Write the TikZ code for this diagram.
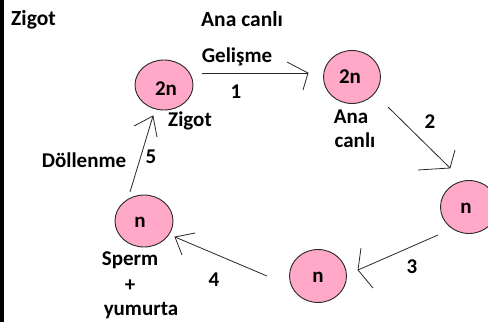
\documentclass[tikz,border=0pt]{standalone}
\usepackage{fontspec}
\setmainfont{Carlito}
\usetikzlibrary{shapes.geometric}
\definecolor{cellpink}{RGB}{255,168,200}
\definecolor{inkline}{RGB}{40,40,40}
\tikzset{
  cell/.style={ellipse, draw=inkline, line width=0.9pt, fill=cellpink, inner sep=0pt,
    minimum width=57pt, minimum height=52pt},
  lbl/.style={anchor=base, inner sep=0pt, font=\fontsize{21}{25}\selectfont\bfseries},
  stroke/.style={draw=inkline, line width=0.8pt}
}
\begin{document}
\begin{tikzpicture}[x=1pt,y=-1pt]
\useasboundingbox (0,0) rectangle (488,322);
\fill[black] (0,0) rectangle (4,322);
% cells
\node[cell, minimum width=58pt, minimum height=50pt] (zig) at (164,85) {};
\node[cell, minimum height=53pt] (ana) at (352,77) {};
\node[cell, minimum height=53pt] (nr) at (469,207) {};
\node[cell, minimum height=53pt] (nb) at (318,276) {};
\node[cell, minimum width=58pt] (nl) at (144,221) {};
% cell texts
\node[lbl] (zigt) at (166,95) {2n};
\node[lbl] (anat) at (350,83) {2n};
\node[lbl] (nrt) at (466,213) {n};
\node[lbl] (nbt) at (318,282) {n};
\node[lbl] (nlt) at (140,227) {n};
% labels
\node[lbl, anchor=base west, font=\fontsize{21.5}{25}\selectfont\bfseries] (tz) at (11,25) {Zigot};
\node[lbl, anchor=base west, font=\fontsize{21.5}{25}\selectfont\bfseries] (ta) at (201,26) {Ana canlı};
\node[lbl] (gel) at (237,62) {Gelişme};
\node[lbl] (one) at (236,98) {1};
\node[lbl] (zl) at (190,126) {Zigot};
\node[lbl] (al1) at (351,123) {Ana};
\node[lbl] (al2) at (355,147) {canlı};
\node[lbl] (two) at (430,128) {2};
\node[lbl] (three) at (412,273) {3};
\node[lbl] (four) at (214,286) {4};
\node[lbl] (dol) at (84,167) {Döllenme};
\node[lbl] (five) at (151,163) {5};
\node[lbl] (sp) at (130,265) {Sperm};
\node[lbl] (plus) at (130,291) {+};
\node[lbl] (yum) at (141,315) {yumurta};
% arrow 1
\coordinate (a1s) at (202,73); \coordinate (a1t) at (308,73);
\coordinate (a1h) at (287,62); \coordinate (a1k) at (303,90);
\draw[stroke] (a1s) -- (a1t);
\draw[stroke] (a1h) -- (a1t) -- (a1k);
% arrow 2
\coordinate (a2s) at (388,107); \coordinate (a2t) at (450,168);
\coordinate (a2h) at (418,170); \coordinate (a2k) at (455,150);
\draw[stroke] (a2s) -- (a2t);
\draw[stroke] (a2h) -- (a2t) -- (a2k);
% arrow 3
\coordinate (a3s) at (438,235); \coordinate (a3t) at (358,270);
\coordinate (a3h) at (361,248); \coordinate (a3k) at (373,288);
\draw[stroke] (a3s) -- (a3t);
\draw[stroke] (a3h) -- (a3t) -- (a3k);
% arrow 4
\coordinate (a4s) at (267,276); \coordinate (a4t) at (175,237);
\coordinate (a4h) at (195,233); \coordinate (a4k) at (182,255);
\draw[stroke] (a4s) -- (a4t);
\draw[stroke] (a4h) -- (a4t) -- (a4k);
% arrow 5
\coordinate (a5s) at (130,192); \coordinate (a5t) at (153,116);
\coordinate (a5h) at (134,126); \coordinate (a5k) at (157,137);
\draw[stroke] (a5s) -- (a5t);
\draw[stroke] (a5h) -- (a5t) -- (a5k);
\end{tikzpicture}
\end{document}
